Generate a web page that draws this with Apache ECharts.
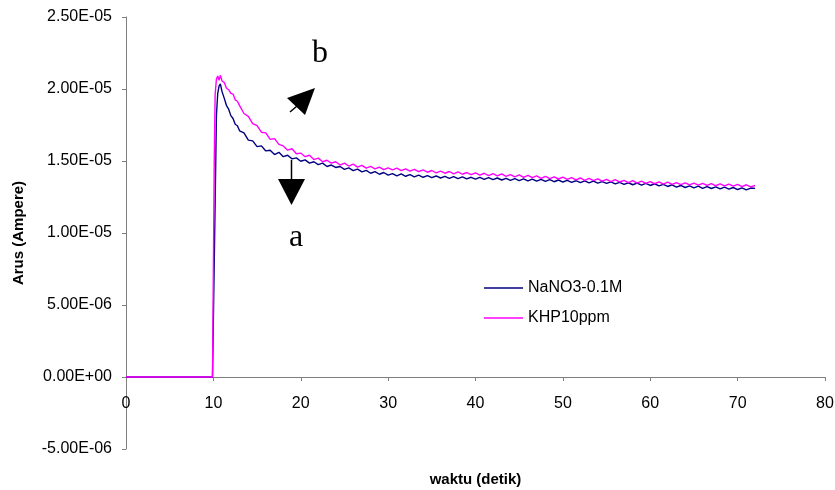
<!DOCTYPE html>
<html>
<head>
<meta charset="utf-8">
<script src="https://cdn.jsdelivr.net/npm/echarts@6/dist/echarts.min.js"></script>
<style>
  html, body { margin: 0; padding: 0; background: #fff; }
  #chart { width: 835px; height: 490px; }
</style>
</head>
<body>
<div id="chart"></div>
<script>
// time axis (detik)
const time = [0, 9.9, 10.0, 10.1, 10.2, 10.35, 10.5, 10.65, 10.8, 11.0, 11.25, 11.5, 11.75, 12.0, 12.25, 12.5, 12.75,
  13, 13.5, 14, 14.5, 15, 15.5, 16, 16.5, 17, 17.5, 18, 18.5, 19, 19.5, 20, 20.5, 21, 21.5, 22, 22.5,
  23, 23.5, 24, 24.5, 25, 25.5, 26, 26.5, 27, 27.5, 28, 28.5, 29, 29.5, 30, 30.5, 31, 31.5, 32, 32.5,
  33, 33.5, 34, 34.5, 35, 35.5, 36, 36.5, 37, 37.5, 38, 38.5, 39, 39.5, 40, 40.5, 41, 41.5, 42, 42.5,
  43, 43.5, 44, 44.5, 45, 45.5, 46, 46.5, 47, 47.5, 48, 48.5, 49, 49.5, 50, 50.5, 51, 51.5, 52, 52.5,
  53, 53.5, 54, 54.5, 55, 55.5, 56, 56.5, 57, 57.5, 58, 58.5, 59, 59.5, 60, 60.5, 61, 61.5, 62, 62.5,
  63, 63.5, 64, 64.5, 65, 65.5, 66, 66.5, 67, 67.5, 68, 68.5, 69, 69.5, 70, 70.5, 71, 71.5, 72];

// current, in microampere (1e-6 A)
const nano3 = [0, 0, 0, 0, 12.0, 18.2, 19.7, 20.2, 20.35, 19.8, 19.35, 18.85, 18.6, 18.15, 17.95, 17.55, 17.45,
  17.1, 16.95, 16.45, 16.4, 16.0, 16.05, 15.7, 15.75, 15.45, 15.6, 15.3, 15.4, 15.15, 15.22, 14.98, 15.08, 14.85, 14.95, 14.75, 14.85,
  14.62, 14.72, 14.55, 14.62, 14.42, 14.52, 14.33, 14.44, 14.25, 14.35, 14.15, 14.26, 14.08, 14.2, 14.02, 14.12, 13.97, 14.1, 13.94, 14.05,
  13.9, 14.02, 13.87, 13.98, 13.84, 13.96, 13.82, 13.93, 13.8, 13.92, 13.78, 13.9, 13.76, 13.87, 13.74, 13.86, 13.72, 13.84, 13.7, 13.82,
  13.68, 13.8, 13.66, 13.77, 13.64, 13.76, 13.62, 13.74, 13.6, 13.72, 13.58, 13.7, 13.56, 13.68, 13.54, 13.66, 13.52, 13.63, 13.5, 13.62,
  13.48, 13.6, 13.46, 13.57, 13.44, 13.55, 13.41, 13.52, 13.37, 13.49, 13.35, 13.47, 13.33, 13.45, 13.3, 13.42, 13.27, 13.38, 13.23, 13.35,
  13.19, 13.3, 13.16, 13.27, 13.13, 13.25, 13.1, 13.22, 13.09, 13.2, 13.07, 13.18, 13.05, 13.16, 13.02, 13.14, 13.0, 13.12, 13.1];

const khp = [0, 0, 0, 15.0, 19.6, 20.7, 20.9, 20.6, 20.95, 20.55, 20.45, 20.05, 19.95, 19.7, 19.65, 19.25, 19.15,
  18.85, 18.3, 18.1, 17.6, 17.45, 17.0, 16.95, 16.5, 16.55, 16.15, 16.05, 15.75, 15.85, 15.5, 15.55, 15.3, 15.4, 15.1, 15.2, 14.95,
  15.05, 14.85, 14.95, 14.72, 14.85, 14.65, 14.78, 14.58, 14.7, 14.5, 14.62, 14.45, 14.58, 14.4, 14.52, 14.38, 14.5, 14.33, 14.45, 14.3,
  14.42, 14.26, 14.38, 14.22, 14.34, 14.18, 14.3, 14.15, 14.27, 14.1, 14.24, 14.08, 14.2, 14.05, 14.18, 14.02, 14.15, 13.98, 14.12, 13.96,
  14.1, 13.93, 14.06, 13.9, 14.03, 13.87, 14.0, 13.84, 13.97, 13.8, 13.94, 13.78, 13.9, 13.75, 13.88, 13.72, 13.85, 13.69, 13.82, 13.66,
  13.79, 13.63, 13.76, 13.6, 13.73, 13.57, 13.7, 13.54, 13.66, 13.5, 13.63, 13.47, 13.6, 13.45, 13.57, 13.42, 13.55, 13.4, 13.53, 13.38,
  13.5, 13.36, 13.48, 13.34, 13.46, 13.32, 13.45, 13.3, 13.43, 13.28, 13.41, 13.27, 13.4, 13.25, 13.37, 13.22, 13.35, 13.2, 13.3];

const seriesNames = ['NaNO3-0.1M', 'KHP10ppm'];
const yTickValues = [-5, 0, 5, 10, 15, 20, 25];
const yTickLabels = ['-5.00E-06', '0.00E+00', '5.00E-06', '1.00E-05', '1.50E-05', '2.00E-05', '2.50E-05'];

const chart = echarts.init(document.getElementById('chart'), null, { renderer: 'canvas' });
const font = "'Liberation Sans', Arial, sans-serif";
const serif = "32px 'Liberation Serif', 'Times New Roman', serif";
const axisGray = '#7f7f7f';

const option = {
  animation: false,
  backgroundColor: '#fff',
  textStyle: { fontFamily: font, color: '#000' },
  grid: { left: 126, right: 10, top: 17, bottom: 41, containLabel: false, outerBoundsMode: 'none' },
  legend: {
    orient: 'vertical',
    left: 479,
    top: 275,
    icon: 'rect',
    itemWidth: 39,
    itemHeight: 1.5,
    itemGap: 14,
    textStyle: { fontFamily: font, fontSize: 16, color: '#000' },
    data: seriesNames
  },
  xAxis: {
    type: 'value',
    min: 0,
    max: 80,
    interval: 10,
    name: 'waktu (detik)',
    nameLocation: 'middle',
    nameGap: 23,
    nameTextStyle: { fontFamily: font, fontSize: 15, fontWeight: 'bold', color: '#000' },
    axisLine: { onZero: true, lineStyle: { color: axisGray, width: 1 } },
    axisTick: { show: true, length: 4, lineStyle: { color: axisGray } },
    // labels sit under the zero line, not at the bottom of the grid
    axisLabel: { fontFamily: font, fontSize: 16, color: '#000', margin: -53 },
    splitLine: { show: false }
  },
  yAxis: {
    type: 'value',
    min: -5,
    max: 25,
    interval: 5,
    name: 'Arus (Ampere)',
    nameLocation: 'middle',
    nameGap: 100,
    nameTextStyle: { fontFamily: font, fontSize: 15, fontWeight: 'bold', color: '#000' },
    axisLine: { show: true, lineStyle: { color: axisGray, width: 1 } },
    axisTick: { show: true, length: 4, lineStyle: { color: axisGray } },
    axisLabel: {
      fontFamily: font, fontSize: 16, color: '#000', margin: 14,
      formatter: v => yTickLabels[yTickValues.indexOf(v)]
    },
    splitLine: { show: false }
  },
  series: [
    {
      name: seriesNames[0],
      type: 'line',
      symbol: 'none',
      color: '#000080',
      lineStyle: { color: '#000080', width: 1.4 },
      data: time.map((t, i) => [t, nano3[i]])
    },
    {
      name: seriesNames[1],
      type: 'line',
      symbol: 'none',
      color: '#ff00ff',
      lineStyle: { color: '#ff00ff', width: 1.4 },
      data: time.map((t, i) => [t, khp[i]])
    }
  ],
  graphic: [
    // label b and its arrow
    { type: 'text', x: 320, y: 54, style: { text: 'b', font: serif, fill: '#000', align: 'center', verticalAlign: 'middle' } },
    { type: 'line', shape: { x1: 290, y1: 112, x2: 297, y2: 106 }, style: { stroke: '#000', lineWidth: 1.5 } },
    { type: 'polygon', shape: { points: [[315, 88], [287, 98], [305, 115]] }, style: { fill: '#000' } },
    // label a and its arrow
    { type: 'line', shape: { x1: 291.5, y1: 160, x2: 291.5, y2: 180 }, style: { stroke: '#000', lineWidth: 1.5 } },
    { type: 'polygon', shape: { points: [[278, 179], [305, 179], [291.5, 205]] }, style: { fill: '#000' } },
    { type: 'text', x: 296, y: 238, style: { text: 'a', font: serif, fill: '#000', align: 'center', verticalAlign: 'middle' } }
  ]
};

chart.setOption(option);
</script>
</body>
</html>
